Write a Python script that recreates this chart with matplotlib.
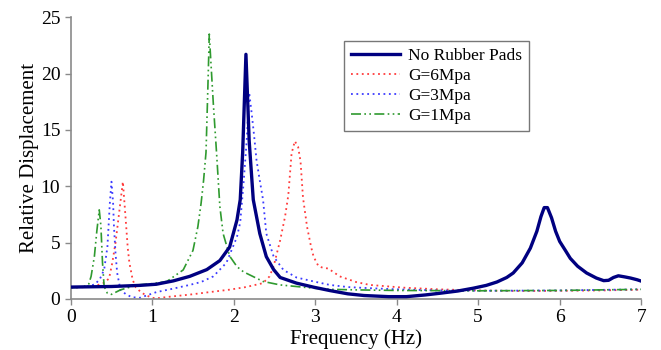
import matplotlib
matplotlib.use("Agg")
import matplotlib.pyplot as plt

# No Rubber Pads
x_none = [0, 0.5, 0.85, 1.05, 1.26, 1.46, 1.67, 1.83, 1.95, 2.04, 2.08, 2.11, 2.15, 2.19, 2.24,
          2.32, 2.4, 2.49, 2.57, 2.77, 2.98, 3.18, 3.4, 3.6, 3.9, 4.12, 4.35, 4.53, 4.75, 4.94,
          5.1, 5.23, 5.35, 5.43, 5.54, 5.64, 5.72, 5.77, 5.81, 5.85, 5.9, 5.95, 6.0, 6.07, 6.13,
          6.22, 6.33, 6.45, 6.54, 6.6, 6.66, 6.72, 6.8, 6.87, 6.95, 7.0]
y_none = [1.05, 1.1, 1.2, 1.3, 1.6, 2.0, 2.6, 3.4, 4.6, 7.0, 8.8, 13.0, 21.7, 14.0, 8.8,
          5.8, 3.75, 2.6, 1.9, 1.4, 1.04, 0.74, 0.45, 0.3, 0.2, 0.2, 0.35, 0.5, 0.7, 0.95,
          1.2, 1.5, 1.9, 2.3, 3.2, 4.5, 6.0, 7.3, 8.1, 8.1, 7.2, 6.0, 5.1, 4.3, 3.6,
          2.9, 2.3, 1.85, 1.62, 1.65, 1.9, 2.05, 1.95, 1.85, 1.7, 1.58]

# G=6Mpa
x_g6 = [0, 0.2, 0.3, 0.4, 0.47, 0.51, 0.55, 0.6, 0.64, 0.67, 0.7, 0.72, 0.76, 0.8, 0.87, 0.93,
        1.0, 1.05, 1.22, 1.46, 1.7, 1.95, 2.15, 2.36, 2.44, 2.49, 2.57, 2.63, 2.67, 2.71, 2.75,
        2.79, 2.82, 2.85, 2.9, 2.95, 2.98, 3.04, 3.1, 3.16, 3.3, 3.5, 3.67, 4.08, 4.5, 5.0,
        5.5, 6.0, 6.5, 7.0]
y_g6 = [1.0, 1.05, 1.15, 1.4, 1.8, 3.2, 5.0, 8.0, 10.4, 7.5, 4.5, 3.2, 1.7, 1.0, 0.55, 0.3,
        0.1, 0.05, 0.2, 0.38, 0.6, 0.82, 1.05, 1.4, 2.0, 2.9, 5.2, 7.3, 9.2, 12.9, 14.0,
        13.5, 12.2, 9.0, 6.4, 4.6, 3.75, 2.9, 2.75, 2.7, 2.0, 1.5, 1.24, 1.0, 0.85, 0.75,
        0.7, 0.72, 0.75, 0.82]

# G=3Mpa
x_g3 = [0, 0.2, 0.3, 0.36, 0.41, 0.45, 0.48, 0.5, 0.52, 0.53, 0.55, 0.57, 0.61, 0.68, 0.75,
        0.85, 1.05, 1.25, 1.46, 1.6, 1.75, 1.91, 2.04, 2.08, 2.12, 2.16, 2.19, 2.22, 2.25, 2.28,
        2.32, 2.36, 2.4, 2.49, 2.61, 2.77, 2.98, 3.18, 3.4, 3.67, 4.0, 4.5, 5.0, 6.0, 7.0]
y_g3 = [1.0, 1.1, 1.3, 1.8, 2.6, 4.6, 8.5, 10.4, 8.5, 6.5, 4.0, 2.3, 0.8, 0.4, 0.15,
        0.1, 0.6, 0.9, 1.24, 1.5, 2.0, 3.2, 5.5, 6.8, 10.2, 14.1, 18.3, 16.5, 14.5, 12.3,
        10.5, 8.8, 5.8, 3.75, 2.57, 1.9, 1.55, 1.24, 1.05, 0.95, 0.85, 0.75, 0.72, 0.75, 0.85]

# G=1Mpa
x_g1 = [0, 0.15, 0.22, 0.25, 0.29, 0.32, 0.35, 0.37, 0.39, 0.41, 0.45, 0.5, 0.61, 0.82, 1.0,
        1.18, 1.38, 1.5, 1.56, 1.6, 1.63, 1.66, 1.68, 1.695, 1.70, 1.72, 1.75, 1.79, 1.83,
        1.87, 1.95, 2.04, 2.12, 2.36, 2.57, 2.98, 3.18, 3.5, 4.0, 5.0, 6.0, 7.0]
y_g1 = [1.0, 1.05, 1.3, 2.0, 3.75, 6.0, 7.9, 6.5, 3.2, 1.1, 0.5, 0.4, 0.8, 1.24, 1.35,
        1.55, 2.57, 4.3, 6.4, 8.5, 10.5, 13.0, 18.0, 22.0, 23.5, 21.0, 17.3, 12.9, 8.2,
        5.8, 3.8, 2.86, 2.4, 1.55, 1.24, 0.95, 0.85, 0.8, 0.75, 0.72, 0.75, 0.85]

plt.rcParams['font.family'] = ['Liberation Serif', 'DejaVu Serif']

fig = plt.figure(figsize=(6.61, 3.5), dpi=100)
ax = fig.add_axes([0.107, 0.146, 0.863, 0.805])

ax.plot(x_none, y_none, color='#000080', lw=2.4, label='No Rubber Pads', zorder=5)
ax.plot(x_g6, y_g6, color='#ff3b3b', lw=1.3, ls=(0, (1, 2)), label='G=6Mpa')
ax.plot(x_g3, y_g3, color='#3b3bff', lw=1.3, ls=(0, (1, 2)), label='G=3Mpa')
ax.plot(x_g1, y_g1, color='#2f9a2f', lw=1.2, ls=(0, (6, 2, 1, 2, 1, 2)), label='G=1Mpa')

ax.set_xlim(0, 7)
ax.set_ylim(0, 25)
ax.set_xticks(range(0, 8))
ax.set_yticks(range(0, 26, 5))

for side in ['top', 'right']:
    ax.spines[side].set_visible(False)
for side in ['left', 'bottom']:
    ax.spines[side].set_color('#8a8a8a')
    ax.spines[side].set_linewidth(1.2)
ax.tick_params(axis='both', colors='#8a8a8a', labelcolor='black', labelsize=14,
               length=4, width=1.0, direction='out')

ax.set_xlabel('Frequency (Hz)', fontsize=15, labelpad=2)
ax.set_ylabel('Relative Displacement', fontsize=15, labelpad=1)

leg = ax.legend(loc='upper left', bbox_to_anchor=(0.479, 0.915), borderaxespad=0,
                fontsize=12.5, fancybox=False, framealpha=1, edgecolor='#777777',
                handlelength=2.8, handletextpad=0.5, labelspacing=0.22,
                borderpad=0.4)
leg.get_frame().set_linewidth(1.0)

fig.savefig('out.png', dpi=100)
